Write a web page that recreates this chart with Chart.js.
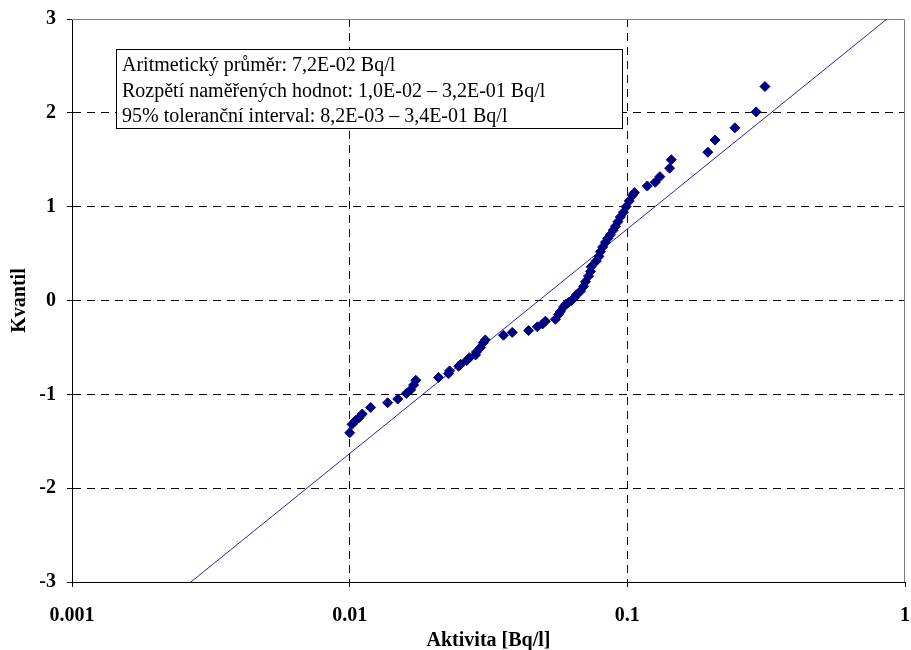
<!DOCTYPE html>
<html><head><meta charset="utf-8">
<script src="https://cdn.jsdelivr.net/npm/chart.js@4.4.1/dist/chart.umd.min.js"></script>
<style>html,body{margin:0;padding:0;background:#fff}#wrap{width:911px;height:650px;position:relative}</style>
</head><body><div id="wrap"><canvas id="c" width="911" height="650"></canvas></div>
<script>
// Measured activity [Bq/l] (x) and corresponding normal quantile (y)
const activity = [
  0.0100,0.0102,0.0105,0.0108,0.0111,0.0119,0.0137,0.0149,0.0160,0.0166,
  0.0170,0.0173,0.0209,0.0227,0.0229,0.0247,0.0251,0.0264,0.0270,0.0284,
  0.0286,0.0296,0.0303,0.0308,0.0358,0.0385,0.0441,0.0474,0.0495,0.0507,
  0.0551,0.0565,0.0574,0.0589,0.0600,0.0614,0.0629,0.0645,0.0656,0.0678,
  0.0696,0.0707,0.0725,0.0737,0.0741,0.0773,0.0790,0.0800,0.0815,0.0834,
  0.0850,0.0869,0.0890,0.0906,0.0925,0.0944,0.0968,0.0990,0.1016,0.1042,
  0.1060,0.118,0.126,0.131,0.142,0.144,0.195,0.207,0.244,0.291,0.313
];
const quantile = [
  -1.41,-1.32,-1.28,-1.25,-1.21,-1.14,-1.09,-1.05,-0.99,-0.95,
  -0.90,-0.85,-0.82,-0.78,-0.75,-0.70,-0.68,-0.64,-0.61,-0.58,
  -0.55,-0.50,-0.45,-0.42,-0.37,-0.34,-0.32,-0.28,-0.25,-0.22,
  -0.20,-0.15,-0.12,-0.07,-0.04,-0.02,0.00,0.03,0.06,0.10,
  0.15,0.20,0.26,0.31,0.36,0.42,0.47,0.52,0.57,0.62,
  0.66,0.70,0.75,0.79,0.84,0.89,0.94,1.00,1.06,1.12,
  1.15,1.22,1.26,1.32,1.41,1.50,1.58,1.71,1.84,2.01,2.28
];
// Theoretical lognormal fit line end points
const fitActivity = [0.00268, 0.861];
const fitQuantile = [-3, 3];
const xTickValues = [0.001, 0.01, 0.1, 1];
const xTickLabels = ['0.001', '0.01', '0.1', '1'];
const yTickValues = [-3, -2, -1, 0, 1, 2, 3];
const infoLines = [
  'Aritmetický průměr: 7,2E-02 Bq/l',
  'Rozpětí naměřených hodnot: 1,0E-02 – 3,2E-01 Bq/l',
  '95% toleranční interval: 8,2E-03 – 3,4E-01 Bq/l'
];
const xTitle = 'Aktivita [Bq/l]';
const yTitle = 'Kvantil';

const FONT = '"Liberation Serif", "Times New Roman", serif';

const frameAndBox = {
  id: 'frameAndBox',
  beforeDatasetsDraw(chart) {
    const {ctx, chartArea: a} = chart;
    ctx.save();
    ctx.strokeStyle = '#808080';
    ctx.lineWidth = 1;
    ctx.beginPath();
    ctx.moveTo(a.left, a.top + 0.5);
    ctx.lineTo(a.right - 0.5, a.top + 0.5);
    ctx.lineTo(a.right - 0.5, a.bottom);
    ctx.stroke();
    ctx.restore();
  },
  afterDatasetsDraw(chart) {
    const {ctx} = chart;
    ctx.save();
    ctx.fillStyle = '#fff';
    ctx.fillRect(116, 49, 507, 80);
    ctx.strokeStyle = '#000';
    ctx.lineWidth = 1;
    ctx.strokeRect(116.5, 49.5, 506, 79);
    ctx.fillStyle = '#000';
    ctx.font = '20px ' + FONT;
    ctx.textBaseline = 'alphabetic';
    ctx.textAlign = 'left';
    const base = [71, 96.5, 122];
    infoLines.forEach((t, i) => ctx.fillText(t, 122, base[i]));
    ctx.restore();
  }
};

new Chart(document.getElementById('c'), {
  data: {
    datasets: [
      {
        type: 'scatter',
        data: activity.map((x, i) => ({x: x, y: quantile[i]})),
        pointStyle: 'rectRot',
        pointRadius: 5,
        pointBackgroundColor: '#000080',
        pointBorderColor: '#000080',
        pointBorderWidth: 1,
        showLine: false,
        order: 0
      },
      {
        type: 'line',
        data: fitActivity.map((x, i) => ({x: x, y: fitQuantile[i]})),
        borderColor: '#2a2a9c',
        borderWidth: 1,
        pointRadius: 0,
        fill: false,
        tension: 0,
        order: 1
      }
    ]
  },
  options: {
    responsive: false,
    animation: false,
    devicePixelRatio: 1,
    layout: {padding: {top: 19, right: 5, left: 0, bottom: 0}},
    plugins: {legend: {display: false}, tooltip: {enabled: false}},
    scales: {
      x: {
        type: 'logarithmic',
        position: 'bottom',
        min: 0.001, max: 1,
        afterBuildTicks: s => { s.ticks = xTickValues.map(v => ({value: v, major: true})); },
        afterFit: s => { s.height = 68; s.paddingLeft = 0; s.paddingRight = 0; },
        ticks: {
          autoSkip: false, maxRotation: 0, minRotation: 0,
          color: '#000', padding: 17,
          font: {family: FONT, size: 20, weight: 'bold'},
          callback: v => { const i = xTickValues.indexOf(v); return i >= 0 ? xTickLabels[i] : ''; }
        },
        grid: {
          color: c => (c.tick && c.tick.value === 1) ? 'rgba(0,0,0,0)' : '#000',
          lineWidth: 1, tickLength: 5, tickColor: '#000', tickBorderDash: [], drawTicks: true
        },
        border: {display: true, color: '#000', width: 1, dash: [8, 6]},
        title: {display: true, text: xTitle, color: '#000', padding: {top: 0, bottom: -3},
          font: {family: FONT, size: 20, weight: 'bold'}}
      },
      y: {
        type: 'linear',
        position: 'left',
        min: -3, max: 3,
        afterBuildTicks: s => { s.ticks = yTickValues.map(v => ({value: v})); },
        afterFit: s => { s.width = 72; s.paddingTop = 0; s.paddingBottom = 0; },
        ticks: {
          color: '#000', padding: 11,
          font: {family: FONT, size: 20, weight: 'bold'}
        },
        grid: {
          color: c => (c.tick && c.tick.value === 3) ? 'rgba(0,0,0,0)' : '#000',
          lineWidth: 1, tickLength: 5, tickColor: '#000', tickBorderDash: [], drawTicks: true
        },
        border: {display: true, color: '#000', width: 1, dash: [8, 6]},
        title: {display: true, text: yTitle, color: '#000', padding: {top: 8, bottom: 0},
          font: {family: FONT, size: 20, weight: 'bold'}}
      }
    }
  },
  plugins: [frameAndBox]
});
</script>
</body></html>
